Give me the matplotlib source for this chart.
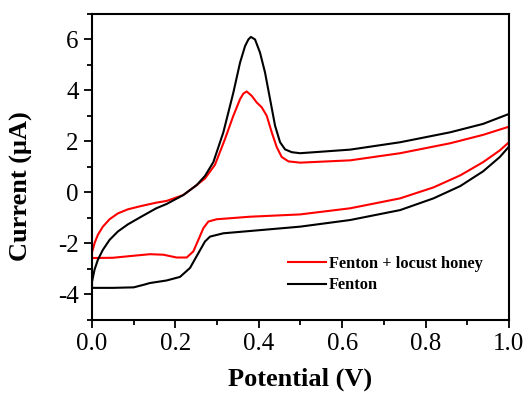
import numpy as np
import matplotlib.pyplot as plt
from matplotlib.ticker import MultipleLocator

plt.rcParams['font.family'] = ['Liberation Serif', 'DejaVu Serif']

# Fenton + locust honey (red), forward scan 0 -> 1 V
red_fwd_v = [0.0, 0.006, 0.014, 0.026, 0.042, 0.062, 0.086, 0.118, 0.154, 0.179, 0.219,
             0.251, 0.271, 0.295, 0.319, 0.339, 0.355, 0.363, 0.371, 0.383, 0.395, 0.407,
             0.419, 0.431, 0.443, 0.455, 0.471, 0.499, 0.619, 0.739, 0.859, 0.938, 1.0]
red_fwd_i = [-2.35, -1.99, -1.66, -1.34, -1.05, -0.82, -0.66, -0.53, -0.40, -0.33, -0.10,
             0.29, 0.55, 1.09, 2.10, 3.01, 3.66, 3.88, 3.96, 3.79, 3.53, 3.34,
             3.01, 2.36, 1.78, 1.39, 1.22, 1.17, 1.26, 1.54, 1.93, 2.26, 2.58]
# reverse scan 1 -> 0 V
red_rev_v = [1.0, 0.978, 0.938, 0.883, 0.819, 0.739, 0.619, 0.499, 0.379, 0.299, 0.279,
             0.267, 0.255, 0.243, 0.227, 0.203, 0.171, 0.139, 0.1, 0.05, 0.0]
red_rev_i = [1.97, 1.65, 1.19, 0.67, 0.20, -0.23, -0.62, -0.86, -0.95, -1.05, -1.14,
             -1.40, -1.86, -2.31, -2.55, -2.55, -2.44, -2.42, -2.48, -2.56, -2.57]

# Fenton (black)
blk_fwd_v = [0.0, 0.006, 0.014, 0.026, 0.042, 0.062, 0.086, 0.118, 0.154, 0.179, 0.219,
             0.251, 0.271, 0.291, 0.315, 0.339, 0.355, 0.367, 0.375, 0.381, 0.391, 0.403,
             0.415, 0.427, 0.439, 0.451, 0.463, 0.479, 0.499, 0.619, 0.739, 0.859, 0.938, 1.0]
blk_fwd_i = [-3.5, -3.03, -2.64, -2.25, -1.86, -1.53, -1.25, -0.95, -0.62, -0.45, -0.10,
             0.29, 0.65, 1.19, 2.36, 3.92, 5.09, 5.74, 6.0, 6.10, 6.0, 5.48,
             4.70, 3.66, 2.62, 1.97, 1.69, 1.58, 1.54, 1.68, 1.97, 2.36, 2.69, 3.08]
blk_rev_v = [1.0, 0.978, 0.938, 0.883, 0.819, 0.739, 0.619, 0.499, 0.379, 0.315, 0.283,
             0.271, 0.255, 0.235, 0.211, 0.179, 0.139, 0.126, 0.1, 0.05, 0.0]
blk_rev_i = [1.80, 1.39, 0.83, 0.25, -0.23, -0.69, -1.08, -1.34, -1.51, -1.60, -1.73,
             -1.92, -2.38, -2.96, -3.31, -3.45, -3.55, -3.61, -3.72, -3.74, -3.74]

fig = plt.figure(figsize=(5.27, 3.99), dpi=100)
ax = fig.add_axes([0.1746, 0.198, 0.7912, 0.767])

# close each loop
rv = red_fwd_v + red_rev_v + red_fwd_v[:1]
ri = red_fwd_i + red_rev_i + red_fwd_i[:1]
bv = blk_fwd_v + blk_rev_v + blk_fwd_v[:1]
bi = blk_fwd_i + blk_rev_i + blk_fwd_i[:1]

ax.plot(rv, ri, color='#ff0000', lw=1.5, label='Fenton + locust honey', solid_joinstyle='round')
ax.plot(bv, bi, color='black', lw=1.5, label='Fenton', solid_joinstyle='round')

ax.set_xlim(0, 1.0)
ax.set_ylim(-5, 7)
ax.xaxis.set_major_locator(MultipleLocator(0.2))
ax.xaxis.set_minor_locator(MultipleLocator(0.1))
ax.yaxis.set_major_locator(MultipleLocator(2))
ax.yaxis.set_minor_locator(MultipleLocator(1))
ax.tick_params(which='major', direction='out', length=6, width=1.3, labelsize=18)
ax.tick_params(which='minor', direction='out', length=3.5, width=1.3)
ax.set_yticks([-4, -2, 0, 2, 4, 6])
ax.set_yticklabels(['-4', '-2', '0', '2', '4', '6'])
for s in ax.spines.values():
    s.set_linewidth(1.5)

ax.set_xlabel('Potential (V)', fontsize=19, fontweight='bold')
ax.set_ylabel('Current (\u03bcA)', fontsize=19, fontweight='bold')
ax.xaxis.set_label_coords(0.5, -0.155)
ax.yaxis.set_label_coords(-0.141, 0.438)

ax.legend(loc='upper left', bbox_to_anchor=(0.47, 0.21), frameon=False,
          prop={'weight': 'bold', 'size': 11.8}, handlelength=2.3, handletextpad=0.2,
          labelspacing=0.35, borderpad=0, borderaxespad=0)

fig.savefig('out.png', dpi=100)
